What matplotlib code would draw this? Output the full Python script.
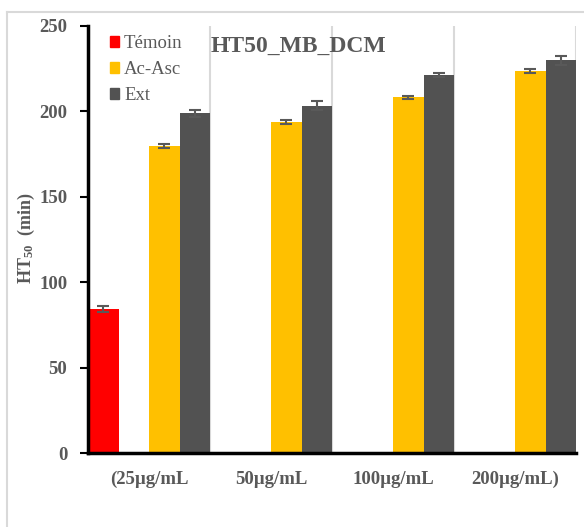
import matplotlib
matplotlib.use("Agg")
import matplotlib.pyplot as plt
from matplotlib.patches import Patch
from matplotlib.lines import Line2D
import numpy as np

plt.rcParams['font.family'] = ['Liberation Serif', 'DejaVu Serif']
plt.rcParams['mathtext.default'] = 'regular'

# Data
groups = ["(25µg/mL", "50µg/mL", "100µg/mL", "200µg/mL)"]
temoin = [84.3]
temoin_err = [1.8]
ac_asc = [179.7, 194.0, 208.2, 223.8]
ac_asc_err = [1.2, 1.2, 1.0, 1.2]
ext = [198.9, 203.3, 221.5, 229.9]
ext_err = [2.2, 2.6, 1.2, 2.5]
yticks = [0, 50, 100, 150, 200, 250]

TXT = '#595959'
C_TEM = '#FF0000'
C_ASC = '#FFC000'
C_EXT = '#525252'
FS = 13.5

W, H = 584, 527
fig = plt.figure(figsize=(W / 100, H / 100), dpi=100)
ax = fig.add_axes([88 / W, 1 - 453 / H, (576 - 88) / W, (453 - 26) / H])

slot = 0.25
x = np.arange(len(groups))


def slot_pos(k):
    return x - 0.5 + slot / 2 + slot * k


err_kw = dict(ecolor=TXT, elinewidth=1.5, capsize=4.5, capthick=1.5)
ax.bar(slot_pos(0)[:len(temoin)], temoin, width=slot, color=C_TEM,
       yerr=temoin_err, error_kw=err_kw, zorder=3)
ax.bar(slot_pos(2), ac_asc, width=slot, color=C_ASC,
       yerr=ac_asc_err, error_kw=err_kw, zorder=3)
ax.bar(slot_pos(3), ext, width=slot, color=C_EXT,
       yerr=ext_err, error_kw=err_kw, zorder=3)

ax.set_xlim(-0.5, len(groups) - 0.5)
ax.set_ylim(0, 250)
ax.set_yticks(yticks)
ax.set_yticklabels([str(v) for v in yticks], fontsize=FS, fontweight='bold', color=TXT)
ax.set_xticks(x)
ax.set_xticklabels(groups, fontsize=FS, fontweight='bold', color=TXT)
ax.tick_params(axis='x', length=0, pad=13)
ax.tick_params(axis='y', length=6, width=1.5, color='black', pad=9)

# vertical separators between groups
for b in x + 0.5:
    ax.axvline(b, color='#d9d9d9', lw=1.5, zorder=1)

for s in ['top', 'right']:
    ax.spines[s].set_visible(False)
ax.spines['left'].set_linewidth(2.5)
ax.spines['bottom'].set_linewidth(2.5)
ax.spines['left'].set_zorder(4)
ax.spines['bottom'].set_zorder(4)

handles = [Patch(color=C_TEM, label='Témoin'),
           Patch(color=C_ASC, label='Ac-Asc'),
           Patch(color=C_EXT, label='Ext')]
leg = ax.legend(handles=handles, loc='upper left', bbox_to_anchor=(0.045, 0.978),
                frameon=False, fontsize=FS, handlelength=0.5, handleheight=0.5,
                handletextpad=0.25, labelspacing=0.47, borderaxespad=0, borderpad=0)
for t in leg.get_texts():
    t.set_color(TXT)

fig.text(298 / W, 1 - 46 / H, 'HT50_MB_DCM', ha='center', va='center',
         fontsize=17, fontweight='bold', color=TXT)
fig.text(26 / W, 1 - 238 / H, 'HT$_{50}$  (min)', ha='center', va='center',
         rotation=90, fontsize=13, fontweight='bold', color=TXT)

# outer chart frame
fig.add_artist(Line2D([7 / W, 7 / W], [0, 1 - 12 / H], transform=fig.transFigure,
                      color='#d9d9d9', lw=1.5))
fig.add_artist(Line2D([7 / W, 1], [1 - 12 / H, 1 - 12 / H], transform=fig.transFigure,
                      color='#d9d9d9', lw=1.5))

fig.savefig('out.png', dpi=100, facecolor='white')
